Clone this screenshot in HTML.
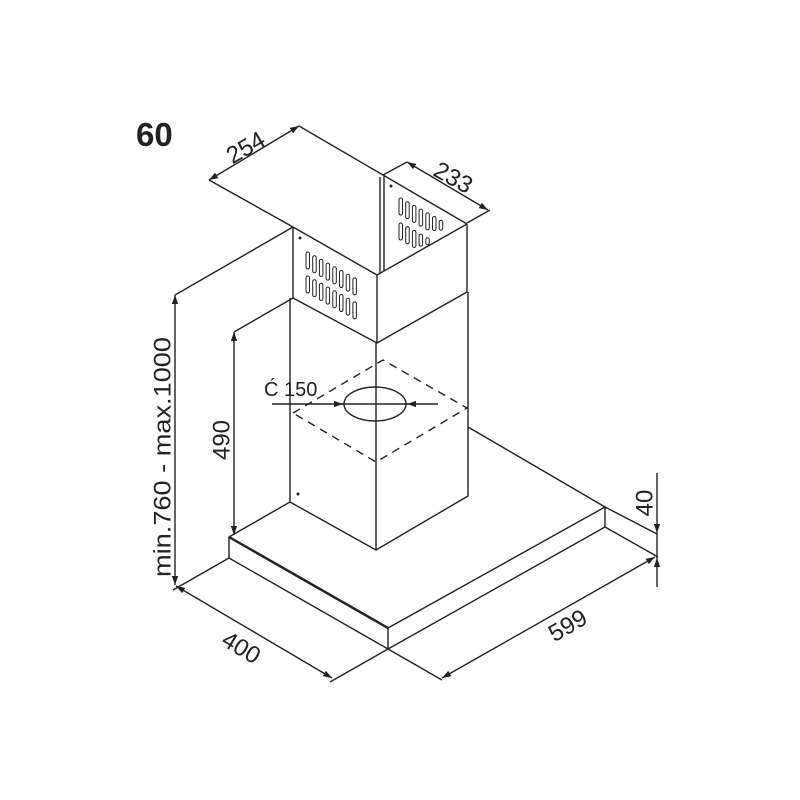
<!DOCTYPE html>
<html><head><meta charset="utf-8"><style>html,body{margin:0;padding:0;background:#fff}svg{display:block}</style></head>
<body>
<svg width="800" height="800" viewBox="0 0 800 800" xmlns="http://www.w3.org/2000/svg">
<defs>
<marker id="a" viewBox="0 0 10 10" refX="10" refY="5" markerWidth="9" markerHeight="9" orient="auto-start-reverse" markerUnits="userSpaceOnUse"><path d="M0,1.5 L10,5 L0,8.5 z" fill="#222"/></marker>
</defs>
<rect width="800" height="800" fill="#fff"/>
<g stroke="#222" stroke-width="1.4" fill="none" stroke-linejoin="round">
<path d="M293,227 L377,275 L467,224"/>
<path d="M383,175 L467,224"/>
<path d="M293,227 L293,298"/>
<path d="M377,275 L377,343"/>
<path d="M467,224 L467,292"/>
<path d="M380,177 L380,273 M384,176 L384,271"/>
<path d="M293,298 L377,343 L467,292"/>
<path d="M290,298 L290,502 L376,550 L468,496 L468,292"/>
<path d="M376,343 L376,550"/>
<path d="M293,413 L383,360 L467,408 L376,462 Z" stroke-dasharray="8,6"/>
<ellipse cx="375" cy="404" rx="31" ry="17" fill="none"/>
<path d="M342,404 L408,404" fill="none"/>
<path d="M272,404 L343,404" marker-end="url(#a)"/>
<path d="M438,404 L407,404" marker-end="url(#a)"/>
<path d="M229,537 L290,502"/>
<path d="M468,427 L605,507"/>
<path d="M229,537 L229,558 L388,649 L605,527 L605,507 L388,628"/>
<path d="M388,628 L388,649"/>
<path d="M229,537 L388,628" stroke-width="2.4"/>
<path d="M209,180 L299,126" marker-start="url(#a)" marker-end="url(#a)"/>
<path d="M299,126 L383,175"/>
<path d="M209,180 L293,227"/>
<path d="M407,162 L488,210" marker-start="url(#a)" marker-end="url(#a)"/>
<path d="M383,175 L407,162 M467,223 L490,210"/>
<path d="M175,295 L175,585" marker-start="url(#a)" marker-end="url(#a)"/>
<path d="M175,295 L293,227"/>
<path d="M234,332 L234,535" marker-start="url(#a)" marker-end="url(#a)"/>
<path d="M234,332 L293,298"/>
<path d="M176,586 L332,678" marker-start="url(#a)" marker-end="url(#a)"/>
<path d="M229,558 L173,590 M388,649 L330,682"/>
<path d="M442,678 L655,557" marker-start="url(#a)" marker-end="url(#a)"/>
<path d="M388,649 L442,680 M605,527 L658,557"/>
<path d="M605,507 L657,534"/>
<path d="M657,473 L657,533" marker-end="url(#a)"/>
<path d="M657,587 L657,558" marker-end="url(#a)"/>
<path d="M657,533 L657,558"/>
</g>
<g fill="#fff" stroke="#222" stroke-width="1">
<rect x="306" y="252" width="3.5" height="17" rx="1.7"/><rect x="312.7" y="255.7" width="3.5" height="17" rx="1.7"/><rect x="319.4" y="259.4" width="3.5" height="17" rx="1.7"/><rect x="326.1" y="263.1" width="3.5" height="17" rx="1.7"/><rect x="332.8" y="266.8" width="3.5" height="17" rx="1.7"/><rect x="339.5" y="270.5" width="3.5" height="17" rx="1.7"/><rect x="346.2" y="274.2" width="3.5" height="17" rx="1.7"/><rect x="352.9" y="277.9" width="3.5" height="17" rx="1.7"/>
<rect x="306" y="276" width="3.5" height="17" rx="1.7"/><rect x="312.7" y="279.7" width="3.5" height="17" rx="1.7"/><rect x="319.4" y="283.4" width="3.5" height="17" rx="1.7"/><rect x="326.1" y="287.1" width="3.5" height="17" rx="1.7"/><rect x="332.8" y="290.8" width="3.5" height="17" rx="1.7"/><rect x="339.5" y="294.5" width="3.5" height="17" rx="1.7"/><rect x="346.2" y="298.2" width="3.5" height="17" rx="1.7"/><rect x="352.9" y="301.9" width="3.5" height="17" rx="1.7"/>
<rect x="399" y="198" width="3.5" height="17" rx="1.7"/><rect x="405.7" y="201.7" width="3.5" height="17" rx="1.7"/><rect x="412.4" y="205.4" width="3.5" height="17" rx="1.7"/><rect x="419.1" y="209.1" width="3.5" height="17" rx="1.7"/><rect x="425.8" y="212.8" width="3.5" height="17" rx="1.7"/><rect x="432.5" y="216.5" width="3.5" height="14" rx="1.7"/><rect x="439.2" y="220.2" width="3.5" height="10" rx="1.7"/>
<rect x="399" y="223" width="3.5" height="17" rx="1.7"/><rect x="405.7" y="226.7" width="3.5" height="17" rx="1.7"/><rect x="412.4" y="230.4" width="3.5" height="17" rx="1.7"/><rect x="419.1" y="234.1" width="3.5" height="12" rx="1.7"/><rect x="425.8" y="237.8" width="3.5" height="7" rx="1.7"/>
</g>
<g fill="#222">
<circle cx="300" cy="238" r="1.5"/><circle cx="391" cy="186" r="1.5"/><circle cx="298" cy="494" r="1.5"/>
</g>
<g font-family="Liberation Sans, sans-serif" fill="#222">
<text x="136" y="146" font-size="33" font-weight="bold">60</text>
<text x="264" y="396" font-size="20">Ć 150</text>
<text transform="translate(246,148) rotate(-30)" text-anchor="middle" dominant-baseline="central" font-size="24">254</text>
<text transform="translate(453,178) rotate(29)" text-anchor="middle" dominant-baseline="central" font-size="24">233</text>
<text transform="translate(163,457) rotate(-90)" text-anchor="middle" dominant-baseline="central" font-size="24" textLength="240" lengthAdjust="spacingAndGlyphs">min.760 - max.1000</text>
<text transform="translate(222,440) rotate(-90)" text-anchor="middle" dominant-baseline="central" font-size="24">490</text>
<text transform="translate(241,648) rotate(31)" text-anchor="middle" dominant-baseline="central" font-size="24">400</text>
<text transform="translate(568,626) rotate(-30)" text-anchor="middle" dominant-baseline="central" font-size="24">599</text>
<text transform="translate(645,503) rotate(-90)" text-anchor="middle" dominant-baseline="central" font-size="24">40</text>
</g>
</svg>
</body></html>
